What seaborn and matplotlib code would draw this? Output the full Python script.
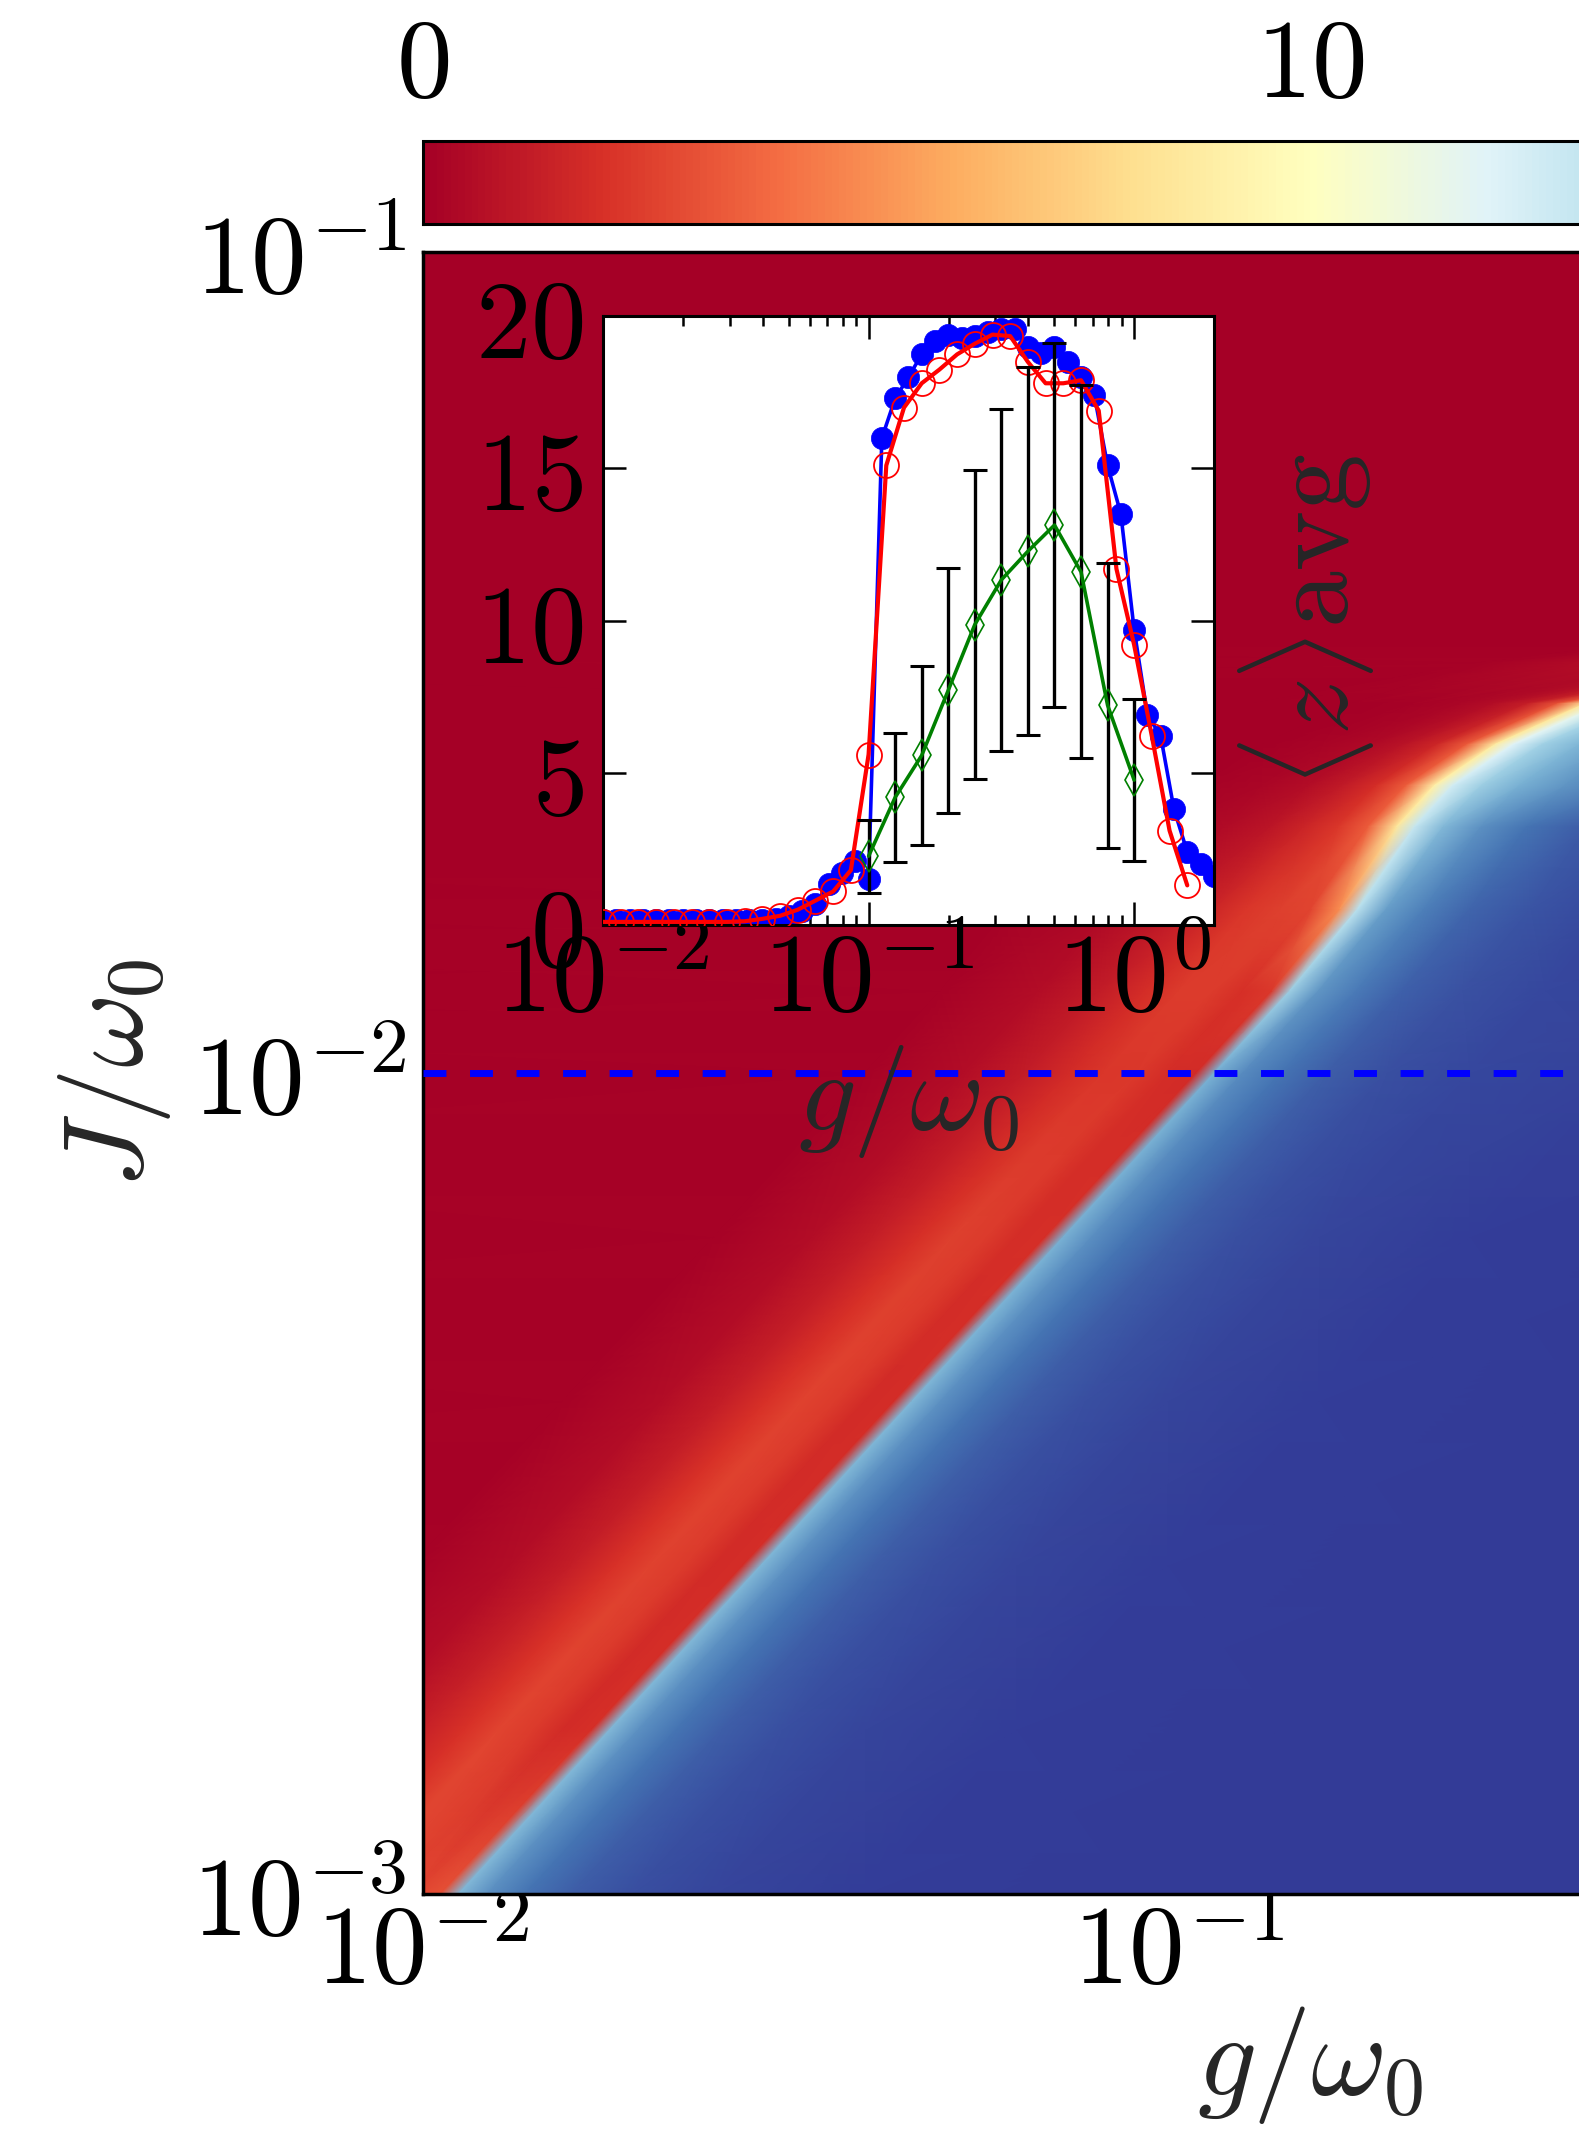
import numpy as np
import matplotlib
matplotlib.use("Agg")
import matplotlib.pyplot as plt
import seaborn as sns
from matplotlib.ticker import LogLocator, NullFormatter, FuncFormatter, FixedLocator

sns.set_style("ticks")
plt.rcParams.update({
    "font.family": ["DejaVu Serif"],
    "mathtext.fontset": "cm",
    "axes.edgecolor": "black",
    "xtick.color": "black",
    "ytick.color": "black",
})

# ---------------- heat map data (log10 units) ----------------
# rows: log10(J/w0); each row has a red/blue boundary position log10(g/w0)
row_logJ = [-3.0, -2.8, -2.6, -2.4, -2.2, -2.0, -1.9, -1.8, -1.7, -1.65,
            -1.6, -1.55, -1.5, -1.45, -1.3, -1.0]
row_boundary_logg = [-1.965, -1.765, -1.565, -1.365, -1.165, -0.965, -0.865,
                     -0.775, -0.70, -0.65, -0.57, -0.45, -0.15, 0.3, 0.8, 0.8]
# offsets (decades of g) from the boundary at which values are read
offsets = [-3.0, -0.45, -0.32, -0.24, -0.18, -0.135, -0.09, -0.05, -0.012,
           0.012, 0.05, 0.1, 0.16, 0.24, 0.35, 0.55, 0.9, 2.8]
z_rows = [
    [0.0, 0.15, 0.6, 1.4, 2.1, 2.8, 2.7, 2.7, 3.1, 15.5, 17.0, 18.0, 18.7, 19.2, 19.5, 19.7, 19.8, 19.8],
    [0.0, 0.15, 0.6, 1.4, 2.1, 2.7, 2.4, 1.8, 2.0, 15.5, 17.0, 18.0, 18.7, 19.2, 19.5, 19.7, 19.8, 19.8],
    [0.0, 0.15, 0.6, 1.3, 2.1, 2.6, 2.4, 1.8, 1.9, 15.6, 17.0, 18.0, 18.7, 19.2, 19.5, 19.7, 19.8, 19.8],
    [0.0, 0.15, 0.6, 1.3, 2.1, 2.6, 2.4, 1.8, 1.9, 15.6, 17.0, 18.0, 18.7, 19.2, 19.5, 19.7, 19.8, 19.8],
    [0.0, 0.15, 0.6, 1.3, 2.0, 2.5, 2.4, 1.9, 2.0, 15.8, 17.1, 18.0, 18.7, 19.2, 19.5, 19.7, 19.8, 19.8],
    [0.0, 0.15, 0.6, 1.2, 1.8, 2.2, 2.3, 1.9, 1.8, 15.8, 17.2, 18.0, 18.7, 19.2, 19.4, 19.6, 19.7, 19.7],
    [0.0, 0.15, 0.6, 1.2, 1.9, 2.4, 2.4, 2.0, 2.3, 14.5, 16.8, 17.8, 18.6, 19.1, 19.4, 19.6, 19.7, 19.7],
    [0.0, 0.1, 0.45, 1.0, 1.6, 2.2, 2.5, 2.7, 5.0, 13.5, 16.5, 17.6, 18.5, 19.0, 19.4, 19.6, 19.7, 19.7],
    [0.0, 0.0, 0.2, 0.5, 0.9, 1.5, 2.2, 3.5, 8.5, 13.0, 15.5, 17.0, 18.0, 18.8, 19.3, 19.6, 19.7, 19.7],
    [0.0, 0.0, 0.1, 0.3, 0.6, 1.1, 1.9, 3.5, 9.0, 12.5, 14.5, 15.8, 16.8, 17.8, 18.6, 19.2, 19.6, 19.7],
    [0.0, 0.0, 0.05, 0.2, 0.4, 0.8, 1.6, 3.4, 8.8, 12.0, 14.3, 15.6, 16.7, 17.7, 18.6, 19.2, 19.6, 19.7],
    [0.0, 0.0, 0.05, 0.1, 0.3, 0.6, 1.3, 3.2, 8.5, 11.5, 14.0, 15.5, 16.6, 17.6, 18.5, 19.2, 19.6, 19.7],
    [0.0, 0.1, 0.5, 0.7, 0.6, 0.7, 1.1, 2.6, 7.0, 11.0, 14.0, 16.5, 17.8, 18.7, 19.2, 19.5, 19.6, 19.6],
    [0.0, 0.0, 0.0, 0.1, 0.2, 0.5, 1.0, 2.0, 6.0, 10.5, 14.0, 16.5, 17.8, 18.7, 19.2, 19.5, 19.6, 19.6],
    [0.0, 0.0, 0.0, 0.1, 0.2, 0.5, 1.0, 2.0, 6.0, 10.5, 14.0, 16.5, 17.8, 18.7, 19.2, 19.5, 19.6, 19.6],
    [0.0, 0.0, 0.0, 0.1, 0.2, 0.5, 1.0, 2.0, 6.0, 10.5, 14.0, 16.5, 17.8, 18.7, 19.2, 19.5, 19.6, 19.6],
]

# ---------------- inset data ----------------
g_blue = np.logspace(-2, 0.3, 47)
z_blue = [0.15, 0.15, 0.15, 0.15, 0.15, 0.15, 0.15, 0.15, 0.15, 0.15, 0.15, 0.15, 0.15, 0.2,
          0.3, 0.45, 0.7, 1.35, 1.7, 2.1, 1.5, 16.0, 17.3, 18.0, 18.75, 19.2, 19.4, 19.3,
          19.35, 19.5, 19.6, 19.6, 19.0, 18.8, 19.0, 18.5, 18.0, 17.4, 15.1, 13.5, 9.7,
          6.9, 6.2, 3.8, 2.4, 2.0, 1.6]
g_red = np.logspace(-2, 0.2, 34)
z_red = [0.1, 0.1, 0.1, 0.1, 0.1, 0.1, 0.1, 0.1, 0.12, 0.2, 0.3, 0.5, 0.8, 1.1, 1.8,
         5.6, 15.1, 17.0, 17.8, 18.25, 18.75, 19.1, 19.4, 19.35, 18.5, 17.8, 17.8,
         17.9, 16.9, 11.7, 9.2, 6.2, 3.1, 1.3]
g_green = np.logspace(-1, 0, 11)
z_green = [2.26, 4.19, 5.57, 7.71, 9.87, 11.34, 12.28, 13.14, 11.6, 7.22, 4.76]
err_green = [1.2, 2.13, 2.93, 4.03, 5.07, 5.63, 6.05, 5.97, 6.13, 4.68, 2.67]

cbar_ticks = [0, 10, 20]
cbar_labels = [r"$0$", r"$10$", r"$20$"]
J_line = 1e-2

FS = 80

fig = plt.figure(figsize=(15.79, 21.49), dpi=100)
fig.patch.set_facecolor("white")

ax = fig.add_axes([0.2679, 0.11866, 1.1241, 0.76408])
cax = fig.add_axes([0.2679, 0.8958, 1.1241, 0.0386])
axin = fig.add_axes([0.3819, 0.5696, 0.3870, 0.2832])

# heat map
lb = np.array(row_boundary_logg)[:, None]
off = np.array(offsets)[None, :]
X = 10.0 ** (lb + off)
Y = 10.0 ** (np.array(row_logJ)[:, None] + 0.0 * off)
Z = np.array(z_rows)
mesh = ax.pcolormesh(X, Y, Z, shading="gouraud", cmap="RdYlBu", vmin=0, vmax=20,
                     rasterized=True)
ax.set_xscale("log")
ax.set_yscale("log")
ax.set_xlim(1e-2, 2.23)
ax.set_ylim(1e-3, 1e-1)
ax.axhline(J_line, color="#0000ff", lw=5, dashes=(3.3, 3.4), zorder=3)

dec_fmt = FuncFormatter(lambda x, pos: r"$10^{%d}$" % int(round(np.log10(x))))
ax.xaxis.set_major_locator(LogLocator(base=10, numticks=20))
ax.yaxis.set_major_locator(LogLocator(base=10, numticks=20))
ax.xaxis.set_minor_locator(LogLocator(base=10, subs=np.arange(2, 10), numticks=20))
ax.yaxis.set_minor_locator(LogLocator(base=10, subs=np.arange(2, 10), numticks=20))
ax.xaxis.set_major_formatter(dec_fmt)
ax.yaxis.set_major_formatter(dec_fmt)
ax.xaxis.set_minor_formatter(NullFormatter())
ax.yaxis.set_minor_formatter(NullFormatter())
ax.tick_params(which="both", direction="in", top=True, right=True, labelsize=FS, width=1.8)
ax.tick_params(which="major", length=16)
ax.tick_params(which="minor", length=7.5)
ax.tick_params(axis="x", pad=4)
ax.tick_params(axis="y", pad=12)
for s in ax.spines.values():
    s.set_linewidth(2.5)
ax.set_xlabel(r"$g/\omega_0$", fontsize=FS + 4, labelpad=-2)
ax.set_ylabel(r"$J/\omega_0$", fontsize=FS + 2, labelpad=14)

# colorbar
cb = fig.colorbar(mesh, cax=cax, orientation="horizontal", ticklocation="top")
cb.set_ticks(cbar_ticks)
cb.set_ticklabels(cbar_labels)
cax.tick_params(direction="in", length=13, width=1.2, labelsize=FS, pad=15)
cb.outline.set_linewidth(2.2)

# inset
axin.set_facecolor("white")
sns.lineplot(x=g_blue, y=z_blue, ax=axin, color="#0000ff", lw=2.6, marker="o",
             markersize=16, markeredgecolor="#0000ff", markeredgewidth=0.5,
             errorbar=None, zorder=2)
sns.lineplot(x=g_red, y=z_red, ax=axin, color="#ff0000", lw=3.0, marker="o",
             markersize=18, markerfacecolor="none", markeredgecolor="#ff0000",
             markeredgewidth=1.3, errorbar=None, zorder=3)
axin.errorbar(g_green, z_green, yerr=err_green, fmt="none", ecolor="black",
              elinewidth=2.4, capsize=8.3, capthick=2.2, zorder=4)
sns.lineplot(x=g_green, y=z_green, ax=axin, color="#008000", lw=2.6, marker="d",
             markersize=16, markerfacecolor="none", markeredgecolor="#008000",
             markeredgewidth=1.2, errorbar=None, zorder=5)
axin.set_xscale("log")
axin.set_xlim(1e-2, 2.0)
axin.set_ylim(0, 20)
axin.xaxis.set_major_locator(LogLocator(base=10, numticks=20))
axin.xaxis.set_minor_locator(LogLocator(base=10, subs=np.arange(2, 10), numticks=20))
axin.xaxis.set_major_formatter(dec_fmt)
axin.xaxis.set_minor_formatter(NullFormatter())
axin.yaxis.set_major_locator(FixedLocator([0, 5, 10, 15, 20]))
axin.yaxis.set_major_formatter(FuncFormatter(lambda y, pos: r"$%d$" % int(round(y))))
axin.tick_params(which="both", direction="in", top=True, right=True, labelsize=FS, width=1.8)
axin.tick_params(which="major", length=16.5)
axin.tick_params(which="minor", length=7.5)
axin.tick_params(axis="x", pad=2)
axin.tick_params(axis="y", pad=14)
for s in axin.spines.values():
    s.set_linewidth(2.2)
axin.set_xlabel(r"$g/\omega_0$", fontsize=FS + 2, labelpad=6)
axin.yaxis.set_label_position("right")
axin.set_ylabel(r"$\langle z\rangle\mathrm{avg}$", fontsize=FS + 2, labelpad=16)

fig.savefig("out.png", dpi=100, facecolor="white")
